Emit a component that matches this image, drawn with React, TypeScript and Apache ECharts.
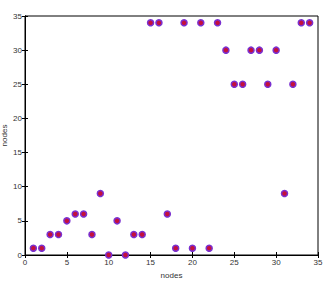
import React, { useEffect, useRef } from "react";
import * as echarts from "echarts";

const xValues = [1, 2, 3, 4, 5, 6, 7, 8, 9, 10, 11, 12, 13, 14, 15, 16, 17, 18, 19, 20, 21, 22, 23, 24, 25, 26, 27, 28, 29, 30, 31, 32, 33, 34];
const yValues = [1, 1, 3, 3, 5, 6, 6, 3, 9, 0, 5, 0, 3, 3, 34, 34, 6, 1, 34, 1, 34, 1, 34, 30, 25, 25, 30, 30, 25, 30, 9, 25, 34, 34];
const xLabel = "nodes";
const yLabel = "nodes";

export default function App() {
  const ref = useRef<HTMLDivElement>(null);
  useEffect(() => {
    if (!ref.current) return;
    const chart = echarts.init(ref.current, null, { renderer: "svg" });
    const data = xValues.map((x, i) => [x, yValues[i]]);
    const labelStyle = { fontSize: 8, color: "#333", fontFamily: "Liberation Sans, Arial, sans-serif" };
    const baseAxis = {
      min: 0,
      max: 35,
      interval: 5,
      splitLine: { show: false },
      axisLine: { show: true, lineStyle: { color: "#000", width: 1 } },
      axisTick: { show: true, inside: true, length: 3, lineStyle: { color: "#000" } },
    };
    chart.setOption({
      animation: false,
      grid: {
        left: 25, right: 7, top: 16, bottom: 29,
        show: true, borderColor: "#000", borderWidth: 1,
        containLabel: false, outerBoundsMode: "none",
      },
      xAxis: [
        {
          ...baseAxis,
          type: "value",
          position: "bottom",
          name: xLabel,
          nameLocation: "middle",
          nameGap: 16,
          nameMoveOverlap: false,
          nameTextStyle: labelStyle,
          axisLabel: { ...labelStyle, margin: 3 },
        },
        {
          ...baseAxis,
          type: "value",
          position: "top",
          axisLabel: { show: false },
        },
      ],
      yAxis: [
        {
          ...baseAxis,
          type: "value",
          position: "left",
          name: yLabel,
          nameLocation: "middle",
          nameGap: 17,
          nameMoveOverlap: false,
          nameTextStyle: labelStyle,
          axisLabel: { ...labelStyle, margin: 3 },
        },
        {
          ...baseAxis,
          type: "value",
          position: "right",
          axisLabel: { show: false },
        },
      ],
      series: [
        {
          type: "scatter",
          data,
          symbol: "circle",
          symbolSize: 6,
          itemStyle: { color: "#c4103c", borderColor: "#7a30d0", borderWidth: 1.5, opacity: 1 },
        },
      ],
    });
    return () => chart.dispose();
  }, []);
  return <div ref={ref} style={{ width: 325, height: 284, position: "absolute", left: 0, top: 0 }} />;
}
